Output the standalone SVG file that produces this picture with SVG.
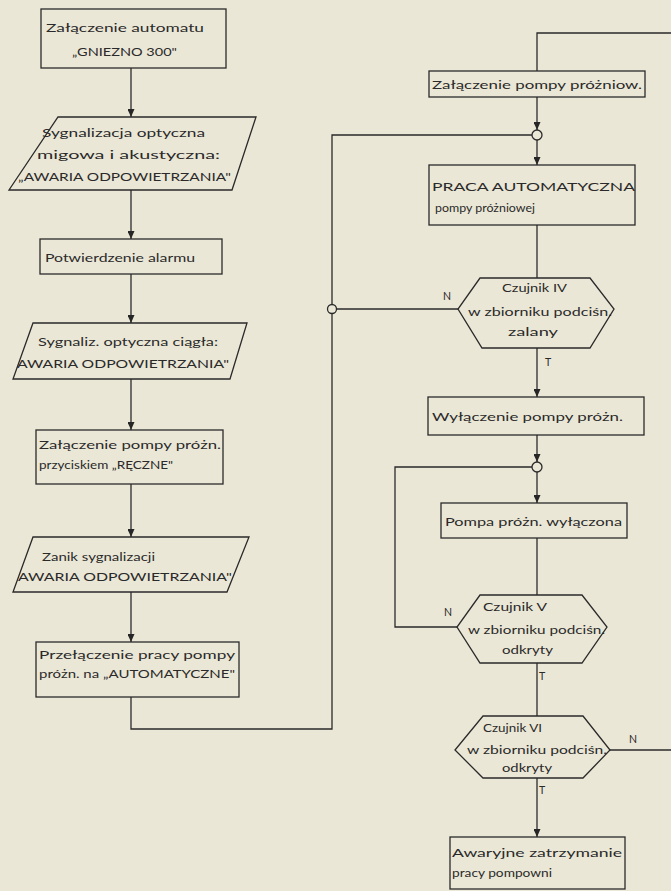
<svg xmlns="http://www.w3.org/2000/svg" width="671" height="891" viewBox="0 0 671 891">
<defs>
<marker id="arr" viewBox="0 0 8 7" markerWidth="8" markerHeight="7" refX="8" refY="3.5" orient="auto" markerUnits="userSpaceOnUse">
<path d="M0,0 L8,3.5 L0,7 Z" fill="#262626"/>
</marker>
</defs>
<style>
.bg{fill:#ebe7d6}
.shape{fill:none;stroke:#2a2a2a;stroke-width:1.3}
.conn{fill:none;stroke:#2a2a2a;stroke-width:1.3}
.arrow{marker-end:url(#arr)}
.jn{fill:#ebe7d6;stroke:#2a2a2a;stroke-width:1.3}
text{font-family:Lato,"Open Sans","Liberation Sans",sans-serif;font-size:12px;fill:#2a2a2a}
.lbl{font-size:10.5px}
</style>
<rect class="bg" x="0" y="0" width="671" height="891"/>

<g id="connectors">
<path class="conn arrow" d="M131,68 V117"/>
<path class="conn arrow" d="M131,190 V239"/>
<path class="conn arrow" d="M131,274 V323"/>
<path class="conn arrow" d="M131,379 V430"/>
<path class="conn arrow" d="M131,484 V537"/>
<path class="conn arrow" d="M131,592 V642"/>
<path class="conn" d="M131,697 V729 H332 V135 H532"/>
<path class="conn" d="M671,33 H537 V71"/>
<path class="conn arrow" d="M537,97 V130"/>
<path class="conn arrow" d="M537,140 V165"/>
<path class="conn" d="M537,225 V278"/>
<path class="conn" d="M458,309 H336.5"/>
<path class="conn arrow" d="M537,348 V397"/>
<path class="conn arrow" d="M537,435 V462"/>
<path class="conn arrow" d="M537,472 V503"/>
<path class="conn" d="M537,538 V595"/>
<path class="conn" d="M457,627 H395 V467 H532"/>
<path class="conn" d="M537,663 V716"/>
<path class="conn" d="M610,750 H671"/>
<path class="conn arrow" d="M537,778 V837"/>
<circle class="jn" cx="537" cy="135" r="5"/>
<circle class="jn" cx="332" cy="309" r="4.5"/>
<circle class="jn" cx="537" cy="467" r="5"/>
<text class="lbl" x="443" y="300">N</text>
<text class="lbl" x="545" y="366">T</text>
<text class="lbl" x="444" y="616">N</text>
<text class="lbl" x="539" y="680">T</text>
<text class="lbl" x="629" y="743">N</text>
<text class="lbl" x="539" y="794">T</text>
</g>

<g id="n1">
<rect class="shape" x="41" y="9" width="185" height="59"/>
<text x="46" y="32" textLength="158" lengthAdjust="spacingAndGlyphs">Załączenie automatu</text>
<text x="72" y="56" textLength="105" lengthAdjust="spacingAndGlyphs">„GNIEZNO 300"</text>
</g>
<g id="n2">
<polygon class="shape" points="58,117 256,117 232,190 9,190"/>
<text x="42" y="137" textLength="163" lengthAdjust="spacingAndGlyphs">Sygnalizacja optyczna</text>
<text x="37" y="159" textLength="183" lengthAdjust="spacingAndGlyphs">migowa i akustyczna:</text>
<text x="18" y="181" textLength="213" lengthAdjust="spacingAndGlyphs">„AWARIA ODPOWIETRZANIA"</text>
</g>
<g id="n3">
<rect class="shape" x="40" y="239" width="182" height="35"/>
<text x="45" y="262" textLength="150" lengthAdjust="spacingAndGlyphs">Potwierdzenie alarmu</text>
</g>
<g id="n4">
<polygon class="shape" points="33,323 247,323 230,379 13,379"/>
<text x="38" y="346" textLength="180" lengthAdjust="spacingAndGlyphs">Sygnaliz. optyczna ciągła:</text>
<text x="17" y="368" textLength="212" lengthAdjust="spacingAndGlyphs">AWARIA ODPOWIETRZANIA"</text>
</g>
<g id="n5">
<rect class="shape" x="36" y="430" width="187" height="54"/>
<text x="39" y="449" textLength="182" lengthAdjust="spacingAndGlyphs">Załączenie pompy próżn.</text>
<text x="39" y="469" textLength="134" lengthAdjust="spacingAndGlyphs">przyciskiem „RĘCZNE"</text>
</g>
<g id="n6">
<polygon class="shape" points="33,537 249,537 227,592 13,592"/>
<text x="42" y="561" textLength="113" lengthAdjust="spacingAndGlyphs">Zanik sygnalizacji</text>
<text x="18" y="581" textLength="214" lengthAdjust="spacingAndGlyphs">AWARIA ODPOWIETRZANIA"</text>
</g>
<g id="n7">
<rect class="shape" x="36" y="642" width="203" height="55"/>
<text x="39" y="659" textLength="196" lengthAdjust="spacingAndGlyphs">Przełączenie pracy pompy</text>
<text x="39" y="678" textLength="196" lengthAdjust="spacingAndGlyphs">próżn. na „AUTOMATYCZNE"</text>
</g>

<g id="r1">
<rect class="shape" x="429" y="71" width="216" height="26"/>
<text x="432" y="89" textLength="210" lengthAdjust="spacingAndGlyphs">Załączenie pompy próżniow.</text>
</g>
<g id="r2">
<rect class="shape" x="429" y="165" width="206" height="60"/>
<text x="432" y="191" textLength="203" lengthAdjust="spacingAndGlyphs">PRACA AUTOMATYCZNA</text>
<text x="435" y="212" textLength="100" lengthAdjust="spacingAndGlyphs">pompy próżniowej</text>
</g>
<g id="h4">
<polygon class="shape" points="480,278 590,278 614,309 590,348 482,348 458,309"/>
<text x="502" y="292" textLength="65" lengthAdjust="spacingAndGlyphs">Czujnik IV</text>
<text x="468" y="316" textLength="144" lengthAdjust="spacingAndGlyphs">w zbiorniku podciśn.</text>
<text x="508" y="336" textLength="50" lengthAdjust="spacingAndGlyphs">zalany</text>
</g>
<g id="r3">
<rect class="shape" x="428" y="397" width="216" height="38"/>
<text x="432" y="421" textLength="191" lengthAdjust="spacingAndGlyphs">Wyłączenie pompy próżn.</text>
</g>
<g id="r4">
<rect class="shape" x="441" y="503" width="186" height="35"/>
<text x="445" y="526" textLength="177" lengthAdjust="spacingAndGlyphs">Pompa próżn. wyłączona</text>
</g>
<g id="h5">
<polygon class="shape" points="480,595 582,595 607,627 582,663 480,663 457,627"/>
<text x="483" y="611" textLength="64" lengthAdjust="spacingAndGlyphs">Czujnik V</text>
<text x="468" y="634" textLength="137" lengthAdjust="spacingAndGlyphs">w zbiorniku podciśn.</text>
<text x="502" y="654" textLength="51" lengthAdjust="spacingAndGlyphs">odkryty</text>
</g>
<g id="h6">
<polygon class="shape" points="483,716 583,716 610,750 583,778 483,778 455,750"/>
<text x="483" y="732" textLength="59" lengthAdjust="spacingAndGlyphs">Czujnik VI</text>
<text x="467" y="754" textLength="140" lengthAdjust="spacingAndGlyphs">w zbiorniku podciśn.</text>
<text x="502" y="772" textLength="50" lengthAdjust="spacingAndGlyphs">odkryty</text>
</g>
<g id="r5">
<rect class="shape" x="450" y="837" width="175" height="52"/>
<text x="452" y="857" textLength="170" lengthAdjust="spacingAndGlyphs">Awaryjne zatrzymanie</text>
<text x="452" y="877" textLength="100" lengthAdjust="spacingAndGlyphs">pracy pompowni</text>
</g>
</svg>
